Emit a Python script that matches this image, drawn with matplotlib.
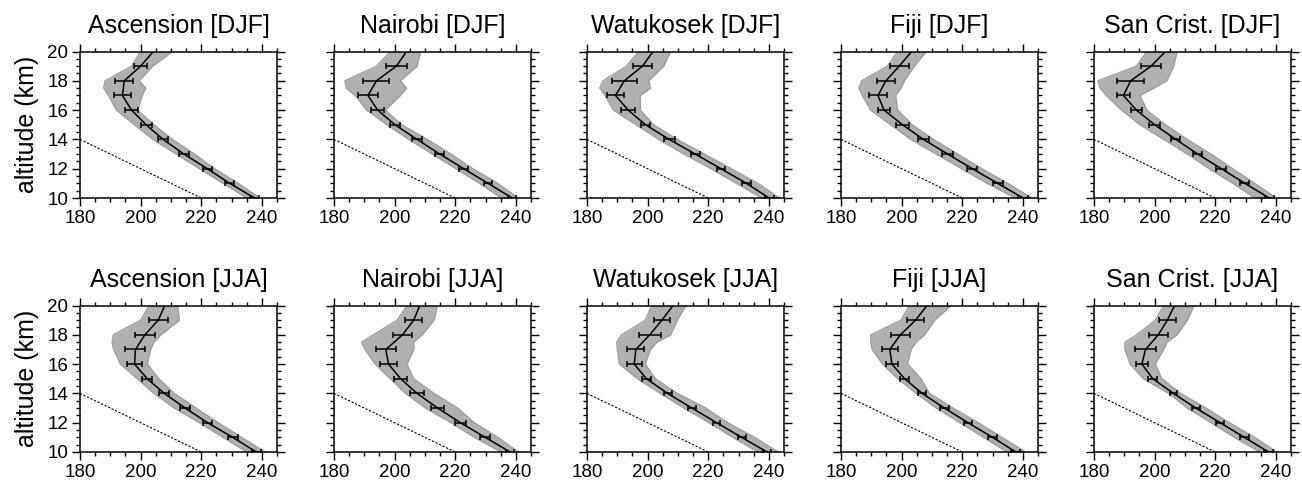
import matplotlib
matplotlib.use("Agg")
import matplotlib.pyplot as plt
from matplotlib.ticker import MultipleLocator

plt.rcParams["font.family"] = ["Liberation Sans", "DejaVu Sans"]

stations = ["Ascension", "Nairobi", "Watukosek", "Fiji", "San Crist."]
seasons = ["DJF", "JJA"]

alt = [10, 11, 12, 13, 14, 15, 16, 17, 18, 19, 20]
bar_alt = [10, 11, 12, 13, 14, 15, 16, 17, 18, 19]
band_alt = [10, 11, 12, 13, 14, 15, 16, 17, 17.5, 18, 19, 20]

# mean temperature profiles (K) at 10..20 km
mean_djf = [
    [237.6, 229.4, 222.0, 214.3, 207.4, 201.8, 197.0, 194.0, 194.6, 200.0, 204.2],
    [238.8, 230.8, 222.8, 214.9, 207.4, 200.1, 194.4, 191.2, 194.0, 200.6, 203.9],
    [240.1, 232.6, 224.2, 215.7, 207.1, 199.3, 193.6, 189.4, 192.3, 198.3, 201.8],
    [240.1, 231.7, 223.3, 215.2, 207.2, 200.3, 194.2, 192.2, 194.8, 199.2, 203.3],
    [237.8, 229.8, 222.0, 214.2, 207.0, 200.0, 194.0, 189.7, 192.1, 198.8, 203.6],
]
mean_jja = [
    [238.2, 230.4, 222.1, 214.7, 207.8, 202.2, 198.0, 198.3, 201.4, 205.8, 208.0],
    [238.1, 229.9, 221.7, 214.2, 207.4, 202.0, 198.0, 197.1, 202.6, 206.3, 208.3],
    [239.4, 231.0, 222.8, 214.6, 206.6, 199.6, 195.6, 196.1, 200.7, 204.7, 208.4],
    [237.7, 230.0, 221.9, 214.1, 206.8, 201.0, 196.8, 196.1, 199.6, 204.6, 208.4],
    [237.6, 229.6, 221.6, 213.6, 206.2, 199.4, 195.8, 197.0, 201.2, 204.2, 206.6],
]

# error bar half widths (K) at 10..19 km
err_djf = [
    [1.5, 1.4, 1.5, 1.6, 1.7, 1.8, 2.0, 2.7, 2.9, 2.2],
    [1.4, 1.3, 1.4, 1.5, 1.7, 1.6, 2.1, 3.2, 4.3, 3.5],
    [1.5, 1.4, 1.4, 1.5, 1.8, 1.5, 2.3, 2.8, 4.1, 3.1],
    [1.7, 1.6, 1.6, 1.8, 1.7, 2.0, 2.0, 2.9, 3.0, 3.1],
    [1.5, 1.5, 1.6, 1.5, 1.5, 1.8, 1.8, 2.2, 4.5, 3.3],
]
err_jja = [
    [1.6, 1.6, 1.6, 1.7, 1.7, 1.7, 2.5, 3.3, 3.2, 3.1],
    [1.3, 1.6, 1.8, 2.1, 2.2, 2.1, 2.8, 3.3, 3.2, 2.8],
    [1.4, 1.3, 1.2, 1.3, 1.3, 1.5, 2.5, 2.8, 3.7, 2.7],
    [1.5, 1.4, 1.4, 1.4, 1.3, 1.4, 2.1, 2.7, 3.1, 2.9],
    [1.5, 1.4, 1.4, 1.4, 1.2, 1.5, 2.0, 3.5, 3.2, 2.9],
]

# spread of the individual soundings (cold / warm edge) at band_alt
lo_djf = [
    [235.0, 227.2, 219.4, 211.7, 204.0, 198.0, 192.0, 189.4, 187.8, 188.3, 197.0, 200.0],
    [235.2, 228.0, 220.2, 212.4, 204.7, 197.4, 190.8, 186.9, 184.0, 183.6, 194.0, 198.6],
    [237.6, 229.3, 220.9, 212.0, 203.7, 196.2, 188.7, 186.0, 184.2, 185.3, 193.0, 197.0],
    [237.6, 228.2, 219.8, 211.4, 203.0, 196.4, 189.8, 187.0, 185.9, 186.8, 195.3, 198.7],
    [233.0, 225.8, 218.0, 210.8, 203.0, 195.2, 189.1, 184.0, 182.0, 181.3, 194.0, 197.4],
]
hi_djf = [
    [239.4, 232.2, 224.4, 217.8, 210.5, 204.4, 199.0, 200.5, 201.7, 199.5, 204.0, 210.5],
    [240.8, 234.0, 225.8, 218.6, 210.8, 202.4, 196.9, 201.9, 204.0, 201.9, 207.4, 208.6],
    [243.5, 236.4, 227.6, 218.7, 209.8, 202.0, 197.6, 197.6, 201.0, 200.3, 205.3, 207.6],
    [243.0, 235.0, 226.5, 218.5, 210.5, 203.5, 198.7, 198.0, 199.8, 200.9, 204.2, 208.1],
    [240.2, 233.0, 225.8, 218.6, 210.8, 203.6, 197.4, 195.2, 199.7, 204.0, 206.3, 207.4],
]
lo_jja = [
    [235.0, 227.2, 219.4, 211.1, 204.4, 198.9, 193.3, 191.1, 190.6, 191.0, 200.0, 202.8],
    [235.2, 226.3, 218.6, 210.2, 203.6, 198.6, 193.6, 190.2, 189.1, 193.0, 200.8, 204.1],
    [236.4, 228.1, 220.3, 212.0, 204.2, 196.7, 190.7, 190.0, 189.8, 191.4, 199.2, 201.4],
    [234.8, 227.0, 219.2, 211.4, 204.8, 198.7, 193.7, 190.3, 189.8, 189.8, 199.8, 202.6],
    [234.7, 226.3, 218.6, 210.8, 204.7, 196.3, 191.9, 190.2, 190.2, 194.1, 200.2, 203.0],
]
hi_jja = [
    [241.1, 233.3, 225.6, 218.3, 211.1, 206.0, 202.2, 203.3, 204.4, 206.7, 212.8, 212.2],
    [240.8, 234.1, 226.3, 220.8, 213.0, 206.3, 204.1, 206.3, 206.3, 209.1, 213.0, 214.1],
    [243.1, 235.3, 226.4, 219.2, 209.8, 202.6, 199.2, 200.9, 203.1, 207.6, 209.8, 212.6],
    [240.9, 233.1, 225.3, 217.0, 209.2, 206.4, 202.0, 203.1, 204.8, 207.6, 210.9, 216.4],
    [240.2, 233.0, 224.7, 216.9, 208.6, 202.4, 200.2, 203.0, 204.1, 207.4, 210.8, 213.0],
]

# dry adiabat reference line
adiabat_t = [180, 220]
adiabat_z = [14, 10]

gray = "#b0b0b0"

fig = plt.figure(figsize=(13.02, 4.84), dpi=100)

lefts = [80, 334, 587, 841, 1094]
rows = [(198, mean_djf, err_djf, lo_djf, hi_djf), (452, mean_jja, err_jja, lo_jja, hi_jja)]
W, H = 1302.0, 484.0

for r, (ybot, means, errs, los, his) in enumerate(rows):
    for c, name in enumerate(stations):
        ax = fig.add_axes([lefts[c] / W, 1 - ybot / H, 197 / W, 146.5 / H])
        ax.fill_betweenx(band_alt, los[c], his[c], color=gray, lw=0)
        ax.plot(los[c], band_alt, color="#a0a0a0", lw=1.0)
        ax.plot(his[c], band_alt, color="#a0a0a0", lw=1.0)
        ax.plot(means[c], alt, color="black", lw=1.1)
        ax.errorbar(means[c][:10], bar_alt, xerr=errs[c], fmt="none",
                    ecolor="black", elinewidth=1.1, capsize=2.2, capthick=1.1)
        ax.plot(adiabat_t, adiabat_z, color="black", lw=0.8, ls=(0, (2, 1.5)))

        ax.set_xlim(180, 245)
        ax.set_ylim(10, 20)
        ax.xaxis.set_major_locator(MultipleLocator(20))
        ax.xaxis.set_minor_locator(MultipleLocator(5))
        ax.yaxis.set_major_locator(MultipleLocator(2))
        ax.yaxis.set_minor_locator(MultipleLocator(0.5))
        ax.tick_params(which="both", direction="out", top=True, right=True,
                       labelsize=13.5, width=1.0)
        ax.tick_params(which="major", length=5.5, pad=3)
        ax.tick_params(which="minor", length=3)
        if c > 0:
            ax.set_yticklabels([])
        else:
            ax.set_ylabel("altitude (km)", fontsize=18, labelpad=6)
        for s in ax.spines.values():
            s.set_linewidth(1.1)
        ax.set_title(f"{name} [{seasons[r]}]", fontsize=18, pad=13)

fig.savefig("out.png", dpi=100)
